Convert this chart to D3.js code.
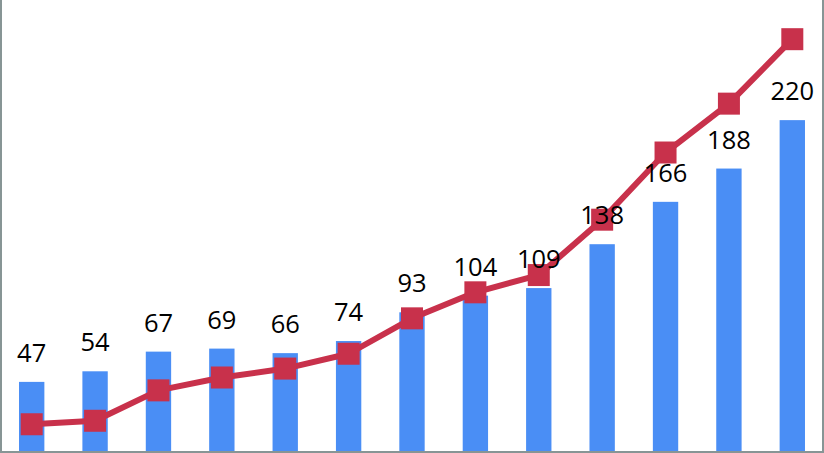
<!DOCTYPE html>
<html>
<head>
<meta charset="utf-8">
<script src="https://cdn.jsdelivr.net/npm/d3@7"></script>
<style>
  html, body { margin: 0; padding: 0; background: #fff; }
  svg { display: block; }
</style>
</head>
<body>
<svg id="chart" width="824" height="453"></svg>
<script>
const categories = ["1","2","3","4","5","6","7","8","9","10","11","12","13"];
const barValues = [47, 54, 67, 69, 66, 74, 93, 104, 109, 138, 166, 188, 220];
const lineValues = [19.0, 21.3, 41.4, 49.9, 55.8, 65.6, 89.0, 106.2, 117.6, 154.2, 198.6, 230.9, 273.5];

const W = 824, H = 453;
const svg = d3.select("#chart");

const x = d3.scaleBand().domain(categories).range([0, W]).paddingInner(0.6).paddingOuter(0.3);
const y = d3.scaleLinear().domain([0, 299.4]).range([H, 0]);
const y2 = d3.scaleLinear().domain([0, 299.4]).range([H, 0]);

const blue = "#4a8ef5", red = "#c8314b";

svg.append("g").selectAll("rect").data(barValues).join("rect")
  .attr("x", (d, i) => x(categories[i]))
  .attr("width", x.bandwidth())
  .attr("y", d => y(d))
  .attr("height", d => y(0) - y(d))
  .attr("fill", blue);

const cx = i => x(categories[i]) + x.bandwidth() / 2;

svg.append("path")
  .datum(lineValues)
  .attr("fill", "none")
  .attr("stroke", red)
  .attr("stroke-width", 6)
  .attr("stroke-linejoin", "round")
  .attr("d", d3.line().x((d, i) => cx(i)).y(d => y2(d)));

const ms = 22;
svg.append("g").selectAll("rect").data(lineValues).join("rect")
  .attr("x", (d, i) => cx(i) - ms / 2)
  .attr("y", d => y2(d) - ms / 2)
  .attr("width", ms).attr("height", ms)
  .attr("fill", red);

svg.append("g").selectAll("text").data(barValues).join("text")
  .attr("x", (d, i) => cx(i))
  .attr("y", d => y(d) - 20)
  .attr("text-anchor", "middle")
  .attr("font-family", "'Open Sans', sans-serif")
  .attr("font-size", 25.5)
  .attr("fill", "#000")
  .text(d => d);

// frame
const frame = svg.append("g").attr("stroke", "#879595").attr("stroke-width", 2);
frame.append("line").attr("x1", 1).attr("x2", 1).attr("y1", 0).attr("y2", H);
frame.append("line").attr("x1", W - 1).attr("x2", W - 1).attr("y1", 0).attr("y2", H);
frame.append("line").attr("x1", 0).attr("x2", W).attr("y1", H - 1).attr("y2", H - 1);
</script>
</body>
</html>
